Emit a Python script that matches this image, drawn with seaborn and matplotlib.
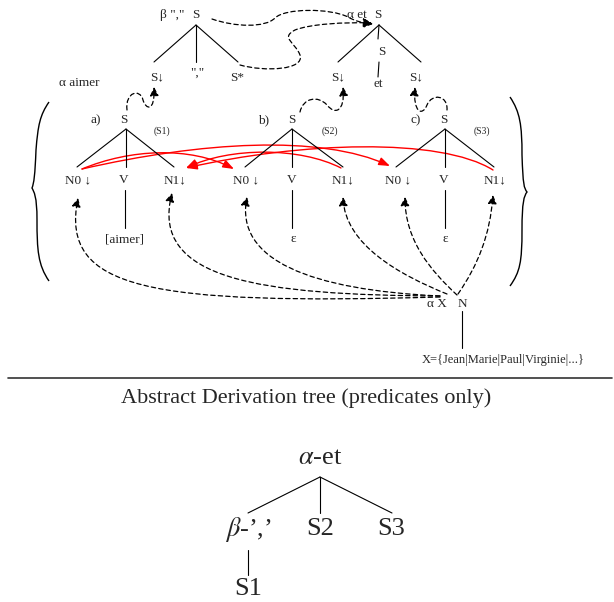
import numpy as np
import pandas as pd
import seaborn as sns
import matplotlib.pyplot as plt
from matplotlib.path import Path
from matplotlib.patches import FancyArrowPatch, PathPatch

sns.set_theme(style="white")
plt.rcParams['font.family'] = ['Liberation Serif', 'DejaVu Serif']
plt.rcParams['mathtext.fontset'] = 'stix'

# ---- diagram content (pixel coordinates, y downwards) ----
# elementary trees a), b), c): root x, labels
tree_roots = [124, 292, 444]
tree_tags = ["a)", "b)", "c)"]
tree_names = ["(S1)", "(S2)", "(S3)"]
verb_leaves = ["[aimer]", "ε", "ε"]
n0_x = [78, 246, 398]
n1_x = [175, 343, 495]

# tree edges: (x0, y0, x1, y1)
edges = [
    (196, 25, 154, 62), (196, 25, 196, 62), (196, 25, 238, 62),       # beta ","
    (379, 25, 338, 62), (379, 25, 378, 39), (379, 25, 421, 62),       # alpha et
    (379, 62, 378, 77),
    (126, 129, 77, 167), (126, 129, 126, 167), (126, 129, 174, 167),  # a)
    (125, 190, 125, 228),
    (292, 129, 245, 167), (292, 129, 292, 167), (292, 129, 343, 167), # b)
    (292, 190, 292, 228),
    (445, 129, 396, 167), (445, 129, 445, 167), (445, 129, 494, 167), # c)
    (445, 190, 445, 228),
    (462, 311, 462, 348),                                             # N -> X
    (320, 477, 248, 513), (320, 477, 320, 513), (320, 477, 392, 513), # derivation tree
    (248, 550, 248, 575),
]

# substitution arrows from alpha X / N to the N0 / N1 slots (cubic beziers)
subst_curves = [
    [(440, 297), (150, 305), (60, 290), (78, 198)],
    [(440, 296), (260, 295), (150, 280), (172, 193)],
    [(440, 296), (310, 290), (235, 260), (247, 197)],
    [(447, 294), (400, 275), (345, 245), (343, 197)],
    [(457, 295), (430, 270), (405, 240), (405, 197)],
    [(458, 294), (478, 265), (490, 235), (493, 195)],
]

# wavy adjunction / substitution links in the upper part
wavy_curves = [
    [(212, 19), (235, 27), (265, 28), (275, 18), (285, 8), (330, 8), (348, 17),
     (355, 21), (362, 23), (373, 24)],
    [(240, 65), (265, 72), (305, 70), (300, 55), (295, 42), (280, 38), (295, 30),
     (310, 24), (345, 22), (372, 23)],
    [(127, 110), (125, 92), (140, 88), (143, 100), (146, 110), (155, 112), (154, 87)],
    [(300, 112), (303, 98), (318, 95), (327, 105), (335, 115), (345, 112), (343, 87)],
    [(447, 110), (448, 95), (432, 93), (427, 105), (422, 117), (413, 112), (415, 87)],
]

# red co-indexation arcs (cubic beziers)
red_curves = [
    [(82, 169), (130, 149), (190, 146), (234, 169)],
    [(82, 169), (200, 142), (320, 134), (390, 166)],
    [(493, 170), (440, 137), (300, 142), (186, 168)],
    [(341, 168), (300, 147), (230, 147), (186, 168)],
]

fig = plt.figure(figsize=(6.14, 6.02), dpi=100)
ax = fig.add_axes([0, 0, 1, 1])

edge_df = pd.DataFrame(
    [(i, e[0], e[1]) for i, e in enumerate(edges)] + [(i, e[2], e[3]) for i, e in enumerate(edges)],
    columns=['edge', 'x', 'y'])
sns.lineplot(data=edge_df, x='x', y='y', units='edge', estimator=None, sort=False,
             color='black', lw=0.8, ax=ax, legend=False)
ax.set_xlim(0, 614)
ax.set_ylim(602, 0)
ax.axis('off')

# horizontal rule
ax.plot([8, 612], [378, 378], color='#333333', lw=1.2)

fs = 9.5
# beta tree
ax.text(172, 15, 'β ","', ha='center', va='center', fontsize=fs)
ax.text(196, 15, 'S', ha='center', va='center', fontsize=fs)
ax.text(157, 77, 'S↓', ha='center', va='center', fontsize=fs)
ax.text(197, 73, '","', ha='center', va='center', fontsize=fs)
ax.text(237, 78, 'S*', ha='center', va='center', fontsize=fs)
# alpha et tree
ax.text(357, 15, 'α et', ha='center', va='center', fontsize=fs)
ax.text(378, 15, 'S', ha='center', va='center', fontsize=fs)
ax.text(382, 52, 'S', ha='center', va='center', fontsize=fs)
ax.text(378, 84, 'et', ha='center', va='center', fontsize=fs)
ax.text(338, 77, 'S↓', ha='center', va='center', fontsize=fs)
ax.text(416, 77, 'S↓', ha='center', va='center', fontsize=fs)

ax.text(79, 83, 'α aimer', ha='center', va='center', fontsize=fs)

for rx, tag, nm, vl, x0, x1 in zip(tree_roots, tree_tags, tree_names, verb_leaves, n0_x, n1_x):
    ax.text(rx - 28, 120, tag, ha='center', va='center', fontsize=fs)
    ax.text(rx, 120, 'S', ha='center', va='center', fontsize=fs)
    ax.text(rx + 38, 131, nm, ha='center', va='center', fontsize=7)
    ax.text(x0, 180, 'N0 ↓', ha='center', va='center', fontsize=fs)
    ax.text(rx, 180, 'V', ha='center', va='center', fontsize=fs)
    ax.text(x1, 180, 'N1↓', ha='center', va='center', fontsize=fs)
    ax.text(rx + 1, 239, vl, ha='center', va='center', fontsize=fs)

ax.text(437, 304, 'α X', ha='center', va='center', fontsize=fs)
ax.text(462, 304, 'N', ha='center', va='center', fontsize=fs)
ax.text(503, 360, 'X={Jean|Marie|Paul|Virginie|...}', ha='center', va='center', fontsize=9)

# braces
left_brace = Path([(49, 102), (40, 115), (38, 125), (36, 150), (35, 175), (34, 183), (32, 188),
                   (34, 192), (37, 196), (37, 220), (37, 250), (38, 265), (49, 281)],
                  [Path.MOVETO] + [Path.CURVE4] * 12)
right_brace = Path([(510, 97), (520, 112), (522, 125), (522, 155), (523, 185), (524, 188), (527, 192),
                    (524, 196), (522, 202), (522, 230), (522, 262), (520, 272), (510, 286)],
                   [Path.MOVETO] + [Path.CURVE4] * 12)
for br in (left_brace, right_brace):
    ax.add_patch(PathPatch(br, fill=False, lw=1.0, color='black'))

dash = (0, (3.5, 2.5))
for pts in subst_curves + wavy_curves:
    p = Path(pts, [Path.MOVETO] + [Path.CURVE4] * (len(pts) - 1))
    ax.add_patch(FancyArrowPatch(path=p, arrowstyle='-|>', mutation_scale=13,
                                 color='black', lw=0.9, linestyle=dash))

for pts in red_curves:
    p = Path(pts, [Path.MOVETO] + [Path.CURVE4] * 3)
    ax.add_patch(FancyArrowPatch(path=p, arrowstyle='-|>,head_length=0.6,head_width=0.22',
                                 mutation_scale=11, color='red', lw=1.0))

# abstract derivation tree
ax.text(306, 398, 'Abstract Derivation tree (predicates only)', ha='center', va='center', fontsize=16)
ax.text(320, 458, r'$\alpha$-et', ha='center', va='center', fontsize=19)
ax.text(248, 529, '$\\beta$-\u2019,\u2019', ha='center', va='center', fontsize=19)
ax.text(320, 529, 'S2', ha='center', va='center', fontsize=19)
ax.text(391, 529, 'S3', ha='center', va='center', fontsize=19)
ax.text(248, 589, 'S1', ha='center', va='center', fontsize=19)

fig.savefig('out.png', dpi=100)
